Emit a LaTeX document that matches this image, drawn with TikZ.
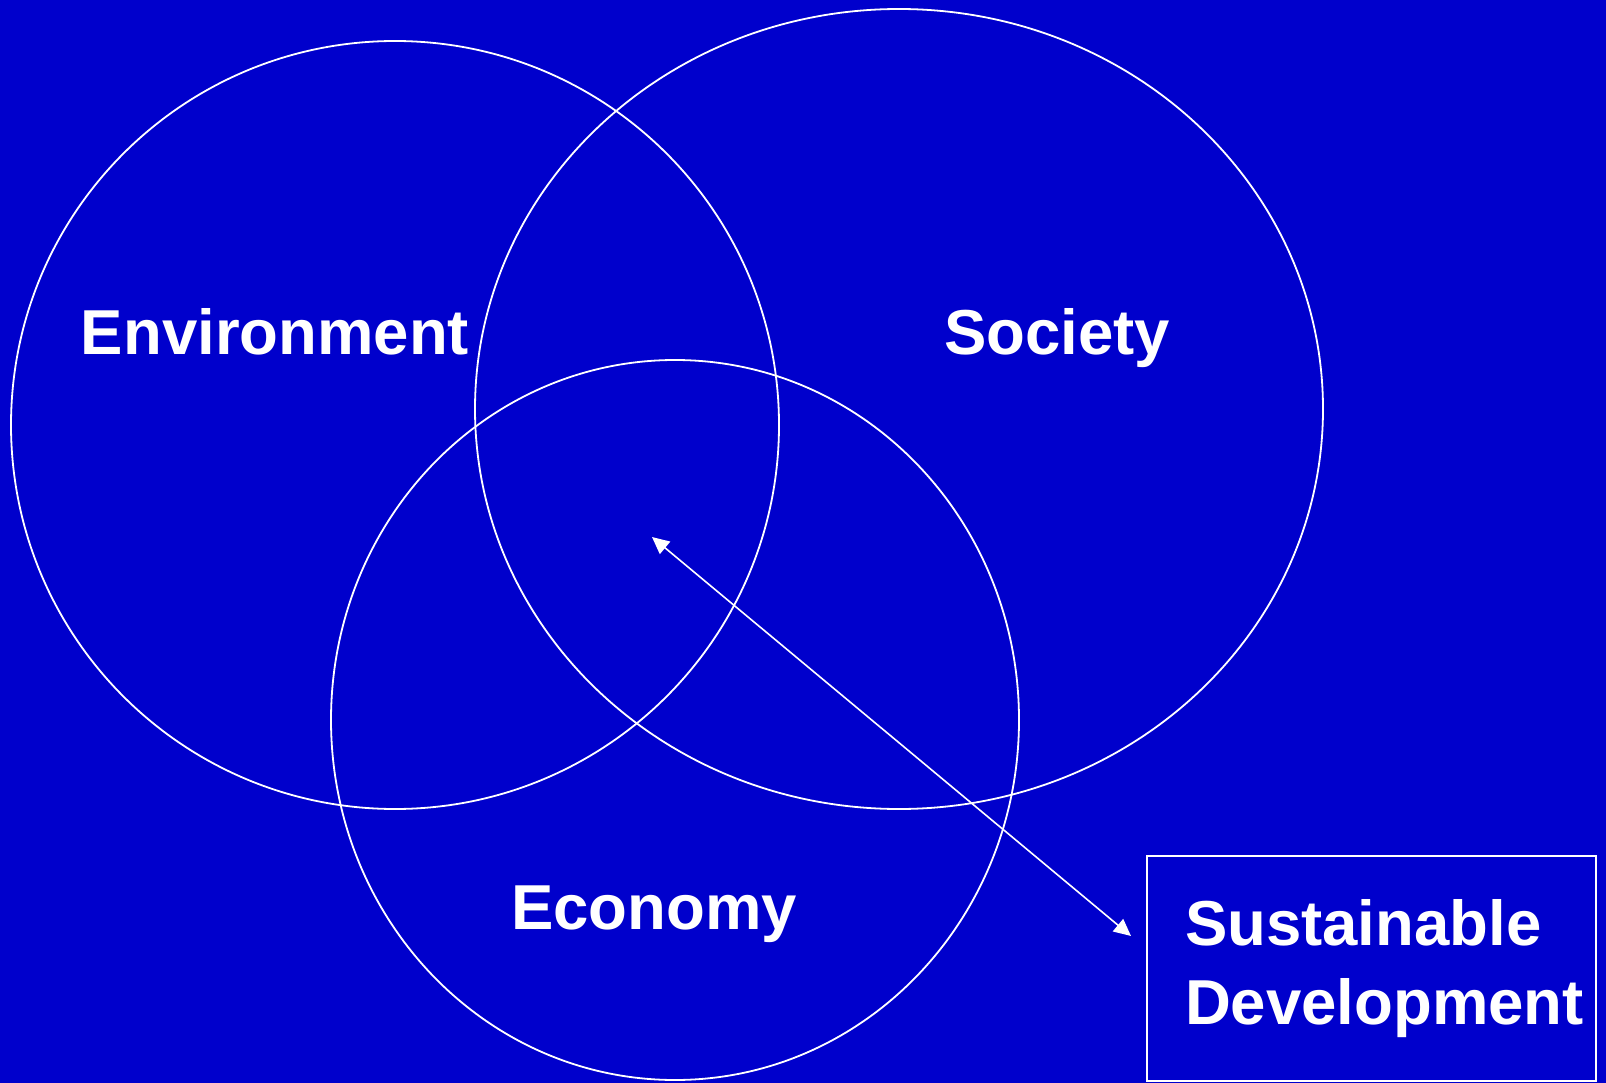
\documentclass[tikz,border=0pt]{standalone}
\usepackage{fontspec}
\setmainfont{Liberation Sans}
\usetikzlibrary{arrows.meta}
\definecolor{slideblue}{RGB}{0,0,204}
\tikzset{
    ring/.style={draw=white, line width=1.8pt},
    sector/.style={text=white, font=\fontsize{63.5}{79}\selectfont\bfseries, inner sep=0pt, anchor=base},
    sdbox/.style={draw=white, line width=1.8pt, text=white, align=left,
        font=\fontsize{63.5}{79}\selectfont\bfseries, text width=373pt,
        inner xsep=38pt, minimum width=449pt, minimum height=225pt},
    pointer/.style={white, line width=1.6pt, {Triangle[length=17pt,width=16pt]}-{Triangle[length=17pt,width=16pt]}}
}
\begin{document}
\begin{tikzpicture}[x=1pt, y=-1pt]
        % background
        \fill[slideblue] (0,0) rectangle (1606,1083);
        \useasboundingbox (0,0) rectangle (1606,1083);

        % three circles
        \draw[ring] (395,425) ellipse [x radius=384, y radius=384];
        \draw[ring] (899,409) ellipse [x radius=424, y radius=400];
        \draw[ring] (675,720) ellipse [x radius=344, y radius=360];

        % circle labels
        \node[sector] (env) at (275,354) {Environment};
        \node[sector] (soc) at (1057,354) {Society};
        \node[sector] (eco) at (654,929) {Economy};

        % box and pointer
        \node[sdbox] (sd) at (1371.5,968.5) {Sustainable\\Development};
        \coordinate (core) at (652,537);
        \coordinate (tip)  at (1131,936);
        \draw[pointer] (core) -- (tip);
\end{tikzpicture}
\end{document}
